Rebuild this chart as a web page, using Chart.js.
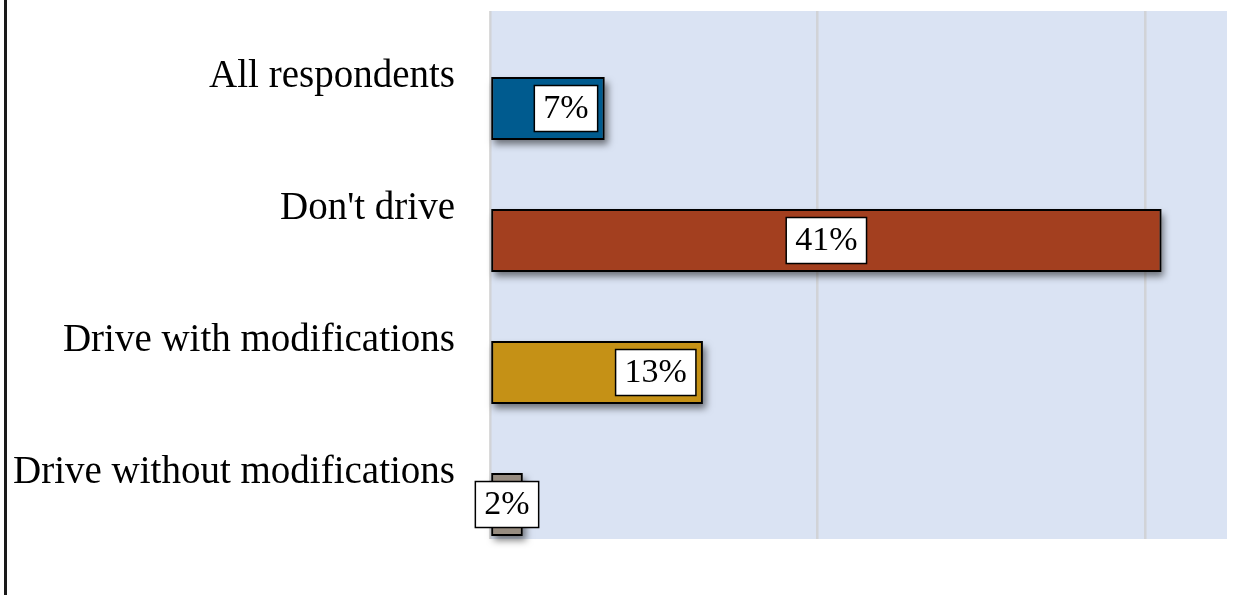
<!DOCTYPE html>
<html>
<head>
<meta charset="utf-8">
<script src="https://cdn.jsdelivr.net/npm/chart.js@4.4.0/dist/chart.umd.min.js"></script>
<style>
  html, body { margin: 0; padding: 0; background: #fff; }
  #wrap { position: relative; width: 1249px; height: 595px; }
  #edge { position: absolute; left: 4px; top: 0; width: 3px; height: 595px; background: #1a1a1a; }
  canvas { position: absolute; left: 0; top: 0; }
</style>
</head>
<body>
<div id="wrap">
  <div id="edge"></div>
  <canvas id="chart" width="1249" height="595"></canvas>
</div>
<script>
// categories and values (percent)
const categories = ['All respondents', "Don't drive", 'Drive with modifications', 'Drive without modifications'];
const shares = [7, 41, 13, 2];
const emptySeries = [null, null, null, null];   // blank first series of the original chart
const barColors = ['#005b8f', '#a33f1f', '#c59116', '#978c80'];
const xMax = 45;

document.addEventListener('DOMContentLoaded', function() {
    const ctx = document.getElementById('chart');

    // plot area fill
    const plotBackground = {
        id: 'plotBackground',
        beforeDraw(chart) {
            const a = chart.chartArea;
            const c = chart.ctx;
            c.save();
            c.fillStyle = '#dae3f3';
            c.fillRect(a.left, a.top, a.right - a.left, a.bottom - a.top);
            c.restore();
        }
    };

    // drop shadow under bars (the bar element clips itself, so draw it beneath)
    const barShadow = {
        id: 'barShadow',
        beforeDatasetsDraw(chart) {
            const c = chart.ctx;
            const meta = chart.getDatasetMeta(1);
            c.save();
            c.shadowColor = 'rgba(0, 0, 0, 0.5)';
            c.shadowBlur = 7;
            c.shadowOffsetX = 3;
            c.shadowOffsetY = 5;
            c.fillStyle = '#777';
            meta.data.forEach(bar => {
                const left = Math.min(bar.base, bar.x);
                const w = Math.abs(bar.x - bar.base);
                c.fillRect(left, bar.y - bar.height / 2, w, bar.height);
            });
            c.restore();
        }
    };

    // boxed value labels
    const boxLabels = {
        id: 'boxLabels',
        afterDatasetsDraw(chart, args, opts) {
            const c = chart.ctx;
            const meta = chart.getDatasetMeta(1);
            c.save();
            c.font = '34px "Liberation Serif", serif';
            c.textAlign = 'center';
            c.textBaseline = 'middle';
            meta.data.forEach((bar, i) => {
                const text = shares[i] + '%';
                const w = c.measureText(text).width + 18;
                const h = 46;
                let cx = (bar.x + bar.base) / 2;
                if (opts.anchor[i] === 'end') cx = bar.x - 7 - w / 2;
                const cy = bar.y;
                c.fillStyle = '#fff';
                c.fillRect(cx - w / 2, cy - h / 2, w, h);
                c.lineWidth = 1.5;
                c.strokeStyle = '#000';
                c.strokeRect(cx - w / 2, cy - h / 2, w, h);
                c.fillStyle = '#000';
                c.fillText(text, cx, cy + 1);
            });
            c.restore();
        }
    };

    new Chart(ctx, {
        type: 'bar',
        data: {
            labels: categories,
            datasets: [
                {
                    label: '',
                    data: emptySeries,
                    backgroundColor: 'transparent'
                },
                {
                    label: 'Share',
                    data: shares,
                    backgroundColor: barColors,
                    borderColor: '#000',
                    borderWidth: 2,
                    borderSkipped: false
                }
            ]
        },
        options: {
            indexAxis: 'y',
            responsive: false,
            animation: false,
            categoryPercentage: 0.955,
            barPercentage: 1,
            layout: {
                padding: { left: 0, right: 22, top: 11, bottom: 56 }
            },
            plugins: {
                legend: { display: false },
                tooltip: { enabled: false },
                boxLabels: { anchor: ['end', 'center', 'end', 'center'] }
            },
            scales: {
                x: {
                    min: 0,
                    max: xMax,
                    ticks: { display: false, stepSize: 20 },
                    afterBuildTicks: s => { s.ticks = s.ticks.filter(t => t.value <= 40); },
                    afterFit: s => {
                        s.height = 0;
                        s.paddingLeft = s.paddingRight = s.paddingTop = s.paddingBottom = 0;
                    },
                    grid: {
                        color: 'rgba(205, 205, 205, 0.75)',
                        lineWidth: 2.5,
                        drawTicks: false
                    },
                    border: { display: false }
                },
                y: {
                    afterFit: s => {
                        s.width = 490;
                        s.paddingLeft = s.paddingRight = s.paddingTop = s.paddingBottom = 0;
                    },
                    grid: { display: false, drawTicks: false },
                    border: { display: false },
                    ticks: {
                        color: '#000',
                        padding: 35,
                        font: { family: '"Liberation Serif", serif', size: 39 }
                    }
                }
            }
        },
        plugins: [plotBackground, barShadow, boxLabels]
    });
});
</script>
</body>
</html>
